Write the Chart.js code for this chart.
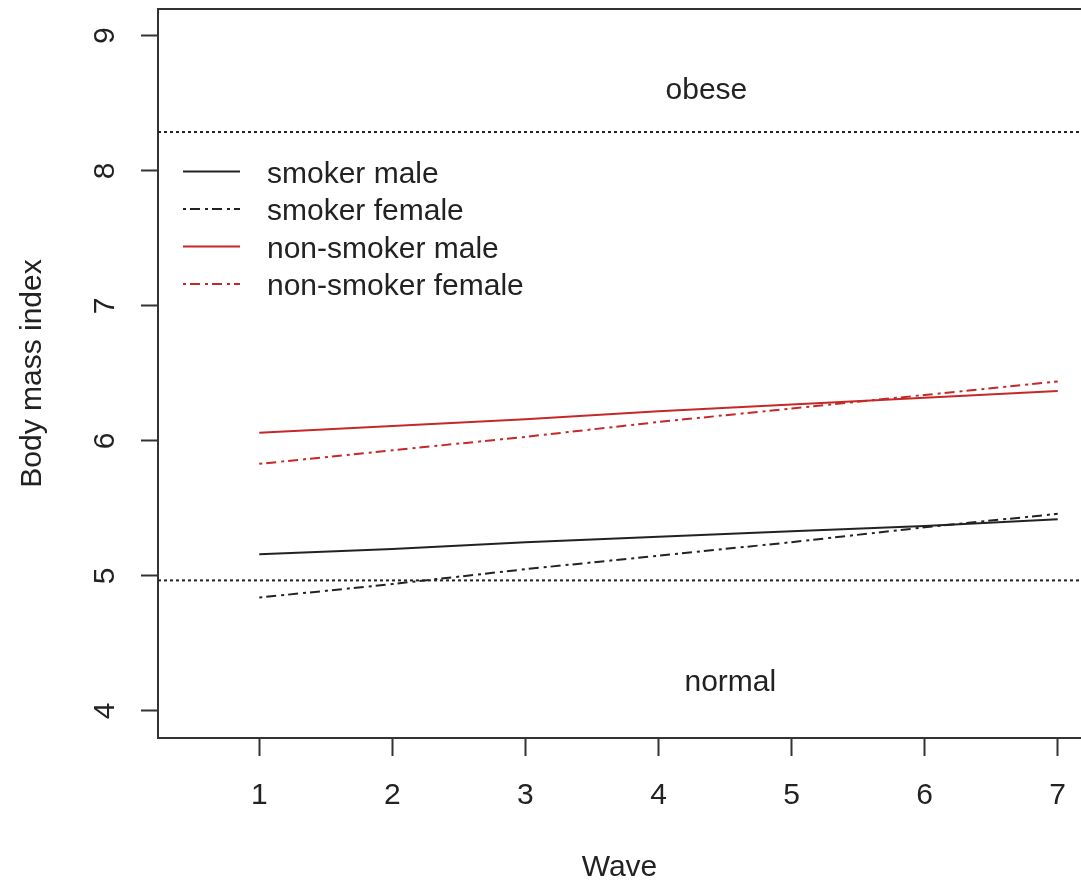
<!DOCTYPE html>
<html>
<head>
<meta charset="utf-8">
<script src="https://cdn.jsdelivr.net/npm/chart.js@4"></script>
<style>
  body { margin: 0; background: #fff; }
  #wrap { width: 1081px; height: 885px; }
</style>
</head>
<body>
<div id="wrap"><canvas id="c" width="1081" height="885"></canvas></div>
<script>
const waves = [1, 2, 3, 4, 5, 6, 7];
const yTicks = [4, 5, 6, 7, 8, 9];
const seriesNames = ['smoker male', 'smoker female', 'non-smoker male', 'non-smoker female'];
const smokerMale = [5.16, 5.20, 5.25, 5.29, 5.33, 5.37, 5.42];
const smokerFemale = [4.84, 4.94, 5.05, 5.15, 5.25, 5.36, 5.46];
const nonSmokerMale = [6.06, 6.11, 6.16, 6.22, 6.27, 6.32, 6.37];
const nonSmokerFemale = [5.83, 5.93, 6.03, 6.14, 6.24, 6.34, 6.44];
const cutoffs = [8.287, 4.967];
const zoneLabels = ['obese', 'normal'];
const zoneX = [4.36, 4.54];
const zoneY = [8.53, 4.15];

const X_MIN = 0.239, X_MAX = 7.175;
const Y_MIN = 3.8, Y_MAX = 9.198;
const FONT = '"Liberation Sans", Arial, sans-serif';
const FS = 30;
const INK = '#222';
const RED = '#c62828';
const DOTDASH = [3, 4, 10, 5];

const pts = vals => waves.map((w, i) => ({ x: w, y: vals[i] }));

const series = [
  { label: seriesNames[0], data: pts(smokerMale), borderColor: INK, borderDash: [] },
  { label: seriesNames[1], data: pts(smokerFemale), borderColor: INK, borderDash: DOTDASH },
  { label: seriesNames[2], data: pts(nonSmokerMale), borderColor: RED, borderDash: [] },
  { label: seriesNames[3], data: pts(nonSmokerFemale), borderColor: RED, borderDash: DOTDASH },
];

const cutoffSets = cutoffs.map(v => ({
  label: 'cutoff',
  data: [{ x: X_MIN, y: v }, { x: X_MAX, y: v }],
  borderColor: INK, borderDash: [3, 3], borderWidth: 2,
}));

// frame top edge, rotated y labels, zone text, legend
const extras = {
  id: 'extras',
  afterDatasetsDraw(chart) {
    const { ctx, chartArea: a, scales: { x, y } } = chart;
    ctx.save();
    ctx.strokeStyle = '#333';
    ctx.lineWidth = 2;
    ctx.beginPath();
    ctx.moveTo(a.left, a.top);
    ctx.lineTo(a.right, a.top);
    ctx.stroke();

    ctx.fillStyle = INK;
    ctx.font = FS + 'px ' + FONT;
    yTicks.forEach(v => {
      ctx.save();
      ctx.translate(114, y.getPixelForValue(v));
      ctx.rotate(-Math.PI / 2);
      ctx.textAlign = 'center';
      ctx.textBaseline = 'alphabetic';
      ctx.fillText(String(v), 0, 0);
      ctx.restore();
    });

    ctx.textAlign = 'center';
    ctx.textBaseline = 'alphabetic';
    zoneLabels.forEach((t, i) => {
      ctx.fillText(t, x.getPixelForValue(zoneX[i]), y.getPixelForValue(zoneY[i]));
    });

    ctx.textAlign = 'left';
    series.forEach((s, i) => {
      const ry = 171.5 + i * 37.5;
      ctx.strokeStyle = s.borderColor;
      ctx.lineWidth = 2;
      ctx.setLineDash(s.borderDash);
      ctx.beginPath();
      ctx.moveTo(183, ry);
      ctx.lineTo(240, ry);
      ctx.stroke();
      ctx.setLineDash([]);
      ctx.fillStyle = INK;
      ctx.fillText(s.label, 267, ry + 11);
    });
    ctx.restore();
  }
};

new Chart(document.getElementById('c'), {
  type: 'line',
  data: {
    datasets: [
      ...cutoffSets,
      ...series.map(s => ({ ...s, borderWidth: 2, pointRadius: 0, tension: 0, fill: false })),
    ]
  },
  options: {
    responsive: false,
    animation: false,
    layout: { padding: { top: 9, right: 0, left: 0, bottom: 0 } },
    elements: { point: { radius: 0 } },
    plugins: { legend: { display: false }, tooltip: { enabled: false } },
    scales: {
      x: {
        type: 'linear', min: X_MIN, max: X_MAX,
        afterBuildTicks: s => { s.ticks = waves.map(v => ({ value: v })); },
        afterFit: s => { s.height = 147; s.paddingLeft = 0; s.paddingRight = 0; },
        grid: { drawOnChartArea: false, tickLength: 18, tickColor: '#333', tickWidth: 2 },
        border: { display: true, color: '#333', width: 2 },
        ticks: { color: INK, padding: 22, font: { family: FONT, size: FS }, maxRotation: 0 },
        title: { display: true, text: 'Wave', color: INK, padding: { top: 0, bottom: -1 }, font: { family: FONT, size: FS } },
      },
      y: {
        type: 'linear', min: Y_MIN, max: Y_MAX,
        afterBuildTicks: s => { s.ticks = yTicks.map(v => ({ value: v })); },
        afterFit: s => { s.width = 158; },
        grid: { drawOnChartArea: false, tickLength: 17, tickColor: '#333', tickWidth: 2 },
        border: { display: true, color: '#333', width: 2 },
        ticks: { display: false },
        title: { display: true, text: 'Body mass index', color: INK, padding: { top: 15, bottom: 0 }, font: { family: FONT, size: FS } },
      }
    }
  },
  plugins: [extras]
});
</script>
</body>
</html>
